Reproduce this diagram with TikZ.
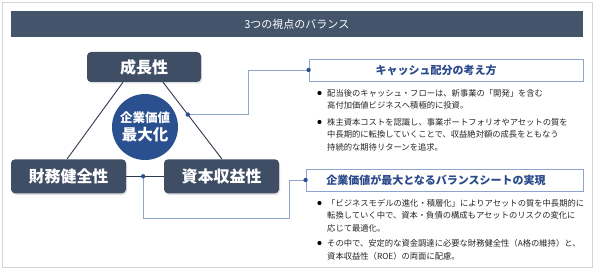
\documentclass[tikz,border=0pt]{standalone}
\usepackage{fontspec}
\setmainfont{Noto Sans CJK JP}
\usetikzlibrary{shadows}
\definecolor{barc}{HTML}{44546A}
\definecolor{boxc}{HTML}{3F4E64}
\definecolor{circc}{HTML}{2B5090}
\definecolor{linkc}{HTML}{8EA4CF}
\definecolor{titc}{HTML}{2B4A8C}
\definecolor{triline}{HTML}{2E3A4E}
\definecolor{txtc}{HTML}{262626}
\definecolor{framec}{HTML}{D4D4D4}
\begin{document}
\begin{tikzpicture}[x=1pt,y=-1pt,
  pillar/.style={fill=boxc, rounded corners=4pt, text=white, inner sep=0pt,
    font=\bfseries\fontsize{16}{18}\selectfont,
    drop shadow={opacity=0.25,shadow xshift=1pt,shadow yshift=-1.5pt}},
  infobox/.style={draw=linkc, line width=0.8pt, fill=white, inner sep=0pt,
    minimum height=22pt,
    drop shadow={opacity=0.15,shadow xshift=1pt,shadow yshift=-1pt}},
  infotitle/.style={text=titc, inner sep=0pt, font=\bfseries\fontsize{11}{13}\selectfont},
  bodytext/.style={anchor=north west, inner sep=0pt, align=left, text=txtc,
    font=\fontsize{8.3}{12.8}\selectfont},
  bulletdot/.style={fill=black},
  linkdot/.style={fill=circc},
  link/.style={draw=linkc, line width=0.8pt},
  triedge/.style={draw=triline, line width=0.9pt}]
\useasboundingbox (0,0) rectangle (595,270);
\fill[white] (0,0) rectangle (595,270);
\draw[framec, line width=0.8pt] (2,2) rectangle (592,267);

% title bar
\node[fill=barc, minimum width=572.5pt, minimum height=25.5pt, inner sep=0pt,
  text=white, font=\fontsize{11}{13}\selectfont] (bar) at (296.8,24.2) {3つの視点のバランス};

% triangle
\node[pillar, minimum width=114pt, minimum height=30pt] (grow) at (144,67) {成長性};
\node[pillar, minimum width=115pt, minimum height=34pt] (fin) at (68.5,176.3) {財務健全性};
\node[pillar, minimum width=115pt, minimum height=34pt] (cap) at (221.5,176.3) {資本収益性};

\draw[triedge] ([xshift=-21pt]grow.south) -- ([xshift=-1.5pt]fin.north);
\draw[triedge] ([xshift=19pt]grow.south) -- coordinate[pos=0.42] (d1) ([xshift=0.5pt]cap.north);
\draw[triedge] (fin.east) -- coordinate[pos=0.45] (d2) (cap.west);

\node[circle, fill=circc, minimum size=66pt, inner sep=0pt, text=white, align=center,
  font=\bfseries] (core) at (145,127)
  {{\fontsize{12.5}{15}\selectfont 企業価値}\\[3pt]{\fontsize{15.5}{18}\selectfont 最大化}};

% info boxes
\node[infobox, minimum width=274pt] (b1) at (446,70) {};
\node[infotitle] (t1) at (436,70) {キャッシュ配分の考え方};
\node[infobox, minimum width=277pt] (b2) at (444.5,180) {};
\node[infotitle] (t2) at (436,180) {企業価値が最大となるバランスシートの実現};

% connectors
\coordinate (k1) at (248,70);
\draw[link] (d1) -| (k1) -- (b1.west);
\coordinate (k2) at (289,218);
\draw[link] (d2) |- (k2) |- (b2.west);
\fill[linkdot] (d1) circle (2.2);
\fill[linkdot] (d2) circle (2.2);
\fill[linkdot] (b1.west) circle (2.2);
\fill[linkdot] (b2.west) circle (2.2);

% bullets box 1
\fill[bulletdot] (319.5,93) circle (2.1);
\node[bodytext] (p1) at (327,88.9) {配当後のキャッシュ・フローは、新事業の「開発」を含む\\高付加価値ビジネスへ積極的に投資。};
\fill[bulletdot] (319.5,122) circle (2.1);
\node[bodytext] (p2) at (327,117.8) {株主資本コストを認識し、事業ポートフォリオやアセットの質を\\中長期的に転換していくことで、収益絶対額の成長をともなう\\持続的な期待リターンを追求。};

% bullets box 2
\fill[bulletdot] (319.5,203) circle (2.1);
\node[bodytext] (p3) at (327,198.9) {「ビジネスモデルの進化・積層化」によりアセットの質を中長期的に\\転換していく中で、資本・負債の構成もアセットのリスクの変化に\\応じて最適化。};
\fill[bulletdot] (319.5,243) circle (2.1);
\node[bodytext] (p4) at (327,238.9) {その中で、安定的な資金調達に必要な財務健全性（A格の維持）と、\\資本収益性（ROE）の両面に配慮。};
\end{tikzpicture}
\end{document}
